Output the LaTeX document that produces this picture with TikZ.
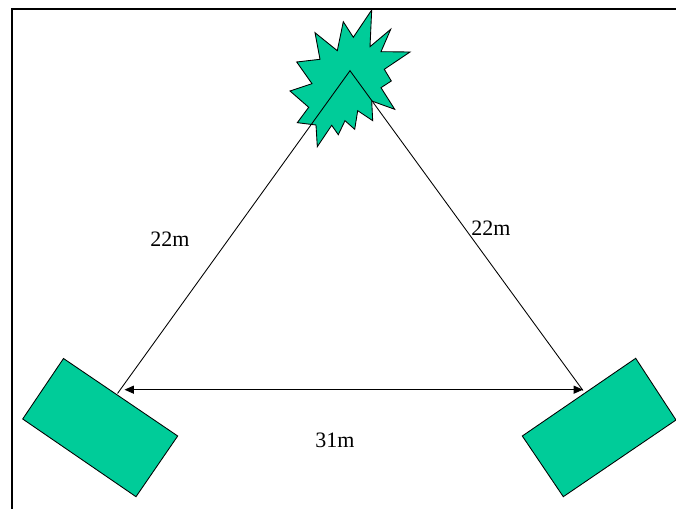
\documentclass[tikz,border=0pt]{standalone}
\usepackage{fontspec}
\setmainfont{Liberation Serif}
\usetikzlibrary{arrows.meta}
\definecolor{shapegreen}{HTML}{00CC99}
\tikzset{
  greenshape/.style={draw=black,fill=shapegreen,line width=0.65pt,line join=miter},
  thinline/.style={draw=black,line width=0.65pt},
  dimline/.style={draw=black,line width=0.75pt,{Triangle[length=7pt,width=6pt]}-{Triangle[length=7pt,width=6pt]}},
  framestyle/.style={draw=black,line width=1.6pt},
  dimlabel/.style={font=\fontsize{16.5}{18}\selectfont,inner sep=0pt}
}
\begin{document}
\begin{tikzpicture}[x=0.75pt,y=-0.75pt]
\useasboundingbox (0,0) rectangle (676,509);
\fill[white] (0,0) rectangle (676,509);
\coordinate (frameBL) at (12.3,509);
\coordinate (frameTL) at (12.3,8.7);
\coordinate (frameTR) at (676,8.7);
\draw[framestyle] (frameBL) -- (frameTL) -- (frameTR);
% burst
\draw[greenshape] (371.7,10) -- (370,46.7) -- (390.7,29.3) -- (381,51.7) -- (410,52) -- (384.3,69.3) -- (391.3,81) -- (381,87.7) -- (394.7,109.3) -- (371.7,101) -- (372.7,120.7) -- (357.7,110.7) -- (354.7,129.3) -- (345,120.7) -- (338.3,134.7) -- (331.7,125.3) -- (317.3,146.7) -- (316,125) -- (297.3,122.7) -- (308.7,107.3) -- (290,91) -- (312,83.7) -- (296.7,62) -- (320,59.3) -- (315,32.7) -- (337.3,50.7) -- (343.3,21.7) -- (353.3,37.3) -- cycle;
\coordinate (apex) at (350,70.7);
\coordinate (leftfoot) at (117.5,393.5);
\coordinate (rightfoot) at (583,390.5);
\coordinate (arrowL) at (124.5,389.7);
\coordinate (arrowR) at (583,389.7);
\draw[thinline] (leftfoot) -- (apex) -- (rightfoot);
\draw[dimline] (arrowL) -- (arrowR);
% sensors
\draw[greenshape] (63.5,358.5) -- (177.7,436) -- (136,496.7) -- (22.7,419) -- cycle;
\draw[greenshape] (635.7,358.3) -- (676,420) -- (563.3,496.7) -- (522.3,436) -- cycle;
\node[dimlabel] (lblL) at (170,239) {22m};
\node[dimlabel] (lblR) at (491,228) {22m};
\node[dimlabel] (lblB) at (335,440) {31m};
\end{tikzpicture}
\end{document}
